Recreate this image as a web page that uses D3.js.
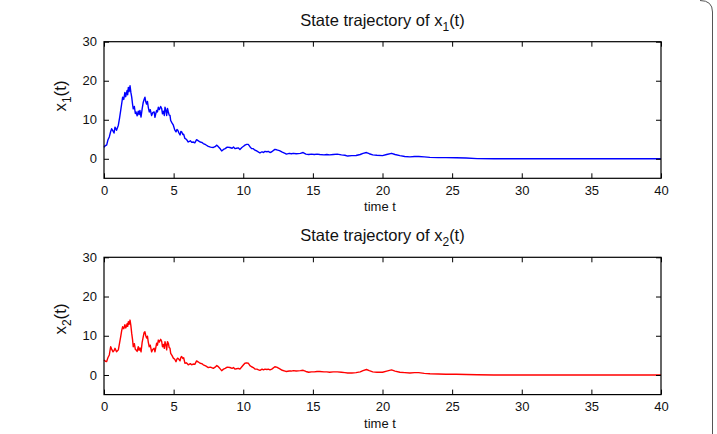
<!DOCTYPE html>
<html>
<head>
<meta charset="utf-8">
<script src="https://cdn.jsdelivr.net/npm/d3@7"></script>
<style>
  body { margin: 0; background: #fff; }
  text { font-family: "Liberation Sans", Arial, Helvetica, sans-serif; fill: #111; }
</style>
</head>
<body>
<div id="vis"></div>
<script>
const times = [0.00, 0.10, 0.19, 0.28, 0.38, 0.48, 0.55, 0.65, 0.72, 0.79, 0.90, 1.03, 1.12, 1.20, 1.27, 1.34, 1.42, 1.50, 1.56, 1.60,
  1.66, 1.70, 1.75, 1.80, 1.87, 1.93, 1.99, 2.05, 2.10, 2.18, 2.25, 2.30, 2.38, 2.46, 2.52, 2.58, 2.66, 2.74, 2.82, 2.88,
  2.94, 3.00, 3.06, 3.12, 3.18, 3.25, 3.32, 3.42, 3.50, 3.60, 3.66, 3.72, 3.78, 3.84, 3.90, 3.98, 4.07, 4.14, 4.20, 4.26,
  4.33, 4.38, 4.45, 4.50, 4.56, 4.62, 4.68, 4.74, 4.79, 4.88, 4.98, 5.08, 5.17, 5.24, 5.30, 5.38, 5.46, 5.52, 5.58, 5.66,
  5.72, 5.81, 5.92, 6.05, 6.20, 6.30, 6.40, 6.52, 6.65, 6.78, 6.90, 7.02, 7.13, 7.30, 7.49, 7.65, 7.85, 7.98, 8.10, 8.18,
  8.26, 8.36, 8.45, 8.58, 8.70, 8.85, 9.04, 9.20, 9.30, 9.40, 9.52, 9.64, 9.76, 9.90, 10.02, 10.12, 10.24, 10.36, 10.48, 10.60,
  10.72, 10.84, 10.98, 11.10, 11.20, 11.35, 11.45, 11.56, 11.70, 11.80, 11.92, 12.05, 12.27, 12.40, 12.60, 12.80, 13.00, 13.10, 13.30, 13.45,
  13.60, 13.80, 14.10, 14.30, 14.50, 14.70, 14.90, 15.10, 15.30, 15.50, 15.80, 16.00, 16.20, 16.46, 16.75, 17.05, 17.30, 17.50, 17.80, 18.10,
  18.40, 18.60, 18.85, 19.05, 19.30, 19.60, 20.00, 20.30, 20.65, 20.90, 21.25, 21.60, 21.97, 22.30, 22.60, 23.00, 23.40, 24.00, 24.55, 25.30,
  26.00, 26.80, 28.00, 40.00];

const x1Values = [2.9, 3.4, 3.5, 4.8, 5.6, 7.0, 7.7, 7.1, 6.6, 8.1, 7.3, 8.6, 10.5, 12.4, 14.1, 15.8, 15.2, 17.0, 15.9, 16.6,
  17.5, 16.4, 18.3, 17.2, 18.7, 17.0, 15.8, 14.0, 12.8, 13.4, 11.6, 12.0, 11.0, 12.2, 11.3, 12.4, 10.7, 12.8, 14.5, 15.2,
  15.8, 14.6, 14.0, 14.7, 13.2, 12.0, 12.6, 11.1, 11.8, 12.0, 10.6, 11.6, 12.4, 12.0, 13.2, 12.6, 13.4, 12.9, 11.5, 12.2,
  11.1, 13.2, 12.3, 11.1, 12.9, 12.0, 11.2, 11.1, 9.8, 9.2, 8.6, 7.4, 6.9, 7.5, 7.3, 6.6, 6.1, 7.0, 6.9, 6.2,
  6.3, 5.2, 5.0, 4.3, 4.6, 4.2, 4.3, 4.1, 4.9, 4.6, 4.3, 4.2, 3.9, 3.6, 3.2, 3.0, 2.9, 3.1, 3.5, 3.2,
  2.9, 2.5, 2.0, 2.4, 2.6, 3.0, 2.9, 2.7, 3.0, 2.6, 2.7, 2.8, 2.4, 2.9, 3.2, 3.5, 3.7, 3.7, 3.1, 2.6,
  2.6, 2.2, 2.0, 1.7, 1.5, 1.8, 1.6, 1.9, 1.8, 1.9, 1.6, 1.8, 2.4, 2.3, 2.1, 1.7, 1.4, 1.2, 1.4, 1.3,
  1.4, 1.3, 1.4, 1.6, 1.2, 1.1, 1.2, 1.1, 1.2, 1.1, 1.0, 1.1, 1.0, 1.1, 1.2, 1.0, 0.9, 0.7, 0.8, 0.85,
  1.1, 1.4, 1.6, 1.3, 1.0, 0.9, 0.8, 1.1, 1.4, 1.1, 0.8, 0.6, 0.5, 0.6, 0.6, 0.5, 0.35, 0.3, 0.3, 0.25,
  0.2, 0.05, 0.0, 0.0];

const x2Values = [3.8, 3.5, 3.4, 4.4, 5.1, 7.2, 6.6, 5.9, 6.2, 6.8, 5.9, 6.4, 8.2, 9.8, 11.3, 12.3, 11.8, 12.8, 12.0, 12.3,
  13.1, 12.4, 13.6, 12.9, 14.0, 12.6, 10.6, 9.0, 7.2, 8.0, 6.5, 6.4, 6.0, 7.2, 6.3, 6.9, 5.9, 8.3, 9.8, 10.8,
  11.0, 10.0, 9.4, 9.9, 8.4, 7.2, 7.6, 5.9, 6.5, 6.8, 5.9, 7.0, 8.1, 7.6, 8.9, 8.4, 9.1, 8.6, 7.2, 7.8,
  6.8, 8.5, 7.6, 6.4, 8.5, 8.1, 7.0, 6.8, 5.5, 5.0, 4.3, 4.0, 3.4, 4.1, 4.3, 4.0, 3.6, 4.5, 4.7, 4.2,
  4.4, 3.0, 3.1, 2.6, 2.9, 2.6, 2.8, 2.7, 3.6, 3.3, 3.0, 2.9, 2.6, 2.3, 1.9, 2.0, 1.7, 2.0, 2.4, 2.2,
  1.9, 1.5, 1.1, 1.5, 1.7, 2.0, 1.9, 1.7, 1.9, 1.5, 1.6, 1.7, 1.5, 2.1, 2.6, 3.0, 3.1, 3.0, 2.4, 2.1,
  1.9, 1.5, 1.5, 1.3, 1.2, 1.5, 1.3, 1.5, 1.4, 1.5, 1.3, 1.5, 2.1, 2.0, 1.6, 1.2, 1.0, 0.9, 1.0, 1.0,
  1.1, 1.0, 1.1, 1.2, 0.9, 0.7, 0.8, 0.8, 0.9, 0.9, 0.8, 0.8, 0.7, 0.8, 0.8, 0.7, 0.6, 0.5, 0.5, 0.6,
  0.8, 1.1, 1.4, 1.1, 0.8, 0.7, 0.7, 1.0, 1.3, 1.0, 0.7, 0.6, 0.5, 0.6, 0.6, 0.4, 0.3, 0.25, 0.2, 0.18,
  0.12, 0.05, 0.0, 0.0];

const xTicks = [0, 5, 10, 15, 20, 25, 30, 35, 40];
const yTicks = [0, 10, 20, 30];

(function(){
  const width = 717;
  const height = 434;

  const svg = d3.select("#vis")
    .append("svg")
    .attr("width", width)
    .attr("height", height);

  // page frame edge on the right
  svg.append("path")
    .attr("d", "M 700 0.5 Q 712.5 0.5 712.5 12 V 434")
    .attr("fill", "none")
    .attr("stroke", "#555")
    .attr("stroke-width", 1);

  const x = d3.scaleLinear().domain([0, 40]).range([104, 661]);

  const panels = [
    { values: x1Values, sub: "1", color: "#0000ff", top: 41.7, bottom: 178.3, labelY: 96 },
    { values: x2Values, sub: "2", color: "#ff0000", top: 257.3, bottom: 394.6, labelY: 319 }
  ];

  panels.forEach(p => {
    const y = d3.scaleLinear().domain([-5, 30]).range([p.bottom, p.top]);
    const g = svg.append("g");

    // trajectory
    const line = d3.line()
      .x((d, i) => x(times[i]))
      .y(d => y(d));

    g.append("path")
      .datum(p.values)
      .attr("fill", "none")
      .attr("stroke", p.color)
      .attr("stroke-width", 1.4)
      .attr("stroke-linejoin", "round")
      .attr("d", line);

    // axes, ticks pointing inward
    g.append("g")
      .attr("transform", `translate(0,${p.bottom})`)
      .call(d3.axisBottom(x).tickValues(xTicks).tickSizeInner(-5).tickSizeOuter(0).tickPadding(7))
      .call(a => a.select(".domain").remove())
      .call(a => a.selectAll("text").attr("font-size", 13).attr("fill", "#111").attr("font-family", null));

    g.append("g")
      .attr("transform", `translate(0,${p.top})`)
      .call(d3.axisTop(x).tickValues(xTicks).tickSizeInner(-5).tickSizeOuter(0).tickFormat(""))
      .call(a => a.select(".domain").remove());

    g.append("g")
      .attr("transform", `translate(${x(0)},0)`)
      .call(d3.axisLeft(y).tickValues(yTicks).tickSizeInner(-5).tickSizeOuter(0).tickPadding(7))
      .call(a => a.select(".domain").remove())
      .call(a => a.selectAll("text").attr("font-size", 13).attr("fill", "#111").attr("font-family", null));

    g.append("g")
      .attr("transform", `translate(${x(40)},0)`)
      .call(d3.axisRight(y).tickValues(yTicks).tickSizeInner(-5).tickSizeOuter(0).tickFormat(""))
      .call(a => a.select(".domain").remove());

    g.append("rect")
      .attr("x", x(0))
      .attr("y", p.top)
      .attr("width", x(40) - x(0))
      .attr("height", p.bottom - p.top)
      .attr("fill", "none")
      .attr("stroke", "#000")
      .attr("stroke-width", 1.2);

    // title
    const title = g.append("text")
      .attr("x", (x(0) + x(40)) / 2)
      .attr("y", p.top - 16)
      .attr("text-anchor", "middle")
      .attr("font-size", 16.5);
    title.append("tspan").text("State trajectory of x");
    title.append("tspan").attr("dy", 5).attr("font-size", 12).text(p.sub);
    title.append("tspan").attr("dy", -5).text("(t)");

    // x label
    g.append("text")
      .attr("x", 380)
      .attr("y", p.bottom + 33)
      .attr("text-anchor", "middle")
      .attr("font-size", 13)
      .text("time t");

    // y label
    const yl = g.append("text")
      .attr("transform", `translate(66,${p.labelY}) rotate(-90)`)
      .attr("text-anchor", "middle")
      .attr("font-size", 17);
    yl.append("tspan").text("x");
    yl.append("tspan").attr("dy", 5).attr("font-size", 12).text(p.sub);
    yl.append("tspan").attr("dy", -5).text("(t)");
  });
})();
</script>
</body>
</html>
